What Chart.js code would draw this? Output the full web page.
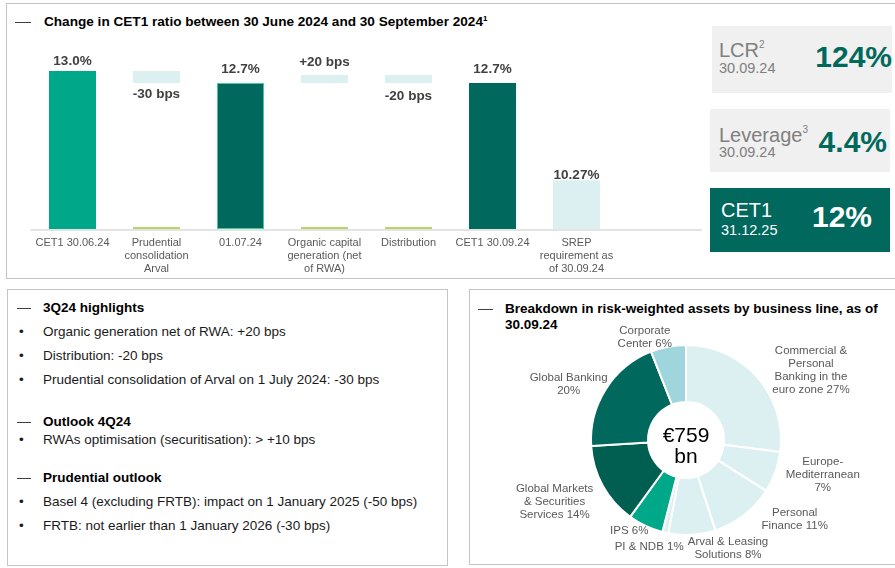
<!DOCTYPE html>
<html><head><meta charset="utf-8">
<script src="https://cdn.jsdelivr.net/npm/chart.js@4.4.1/dist/chart.umd.min.js"></script>
<style>
body{margin:0;background:#fff;}
#wrap{position:relative;width:895px;height:568px;overflow:hidden;font-family:"Liberation Sans",Arial,sans-serif;color:#1a1a1a;}
.panel{position:absolute;border:1px solid #c4c4c4;box-sizing:border-box;}
.t{position:absolute;white-space:nowrap;line-height:16px;font-size:13.5px;}
.b{font-weight:bold;color:#000;}
.dash{position:absolute;height:1px;background:#404040;}
.box{position:absolute;}
.kl{position:absolute;white-space:nowrap;color:#7f7f7f;}
.kv{position:absolute;white-space:nowrap;font-weight:bold;font-size:30px;line-height:34px;color:#00695c;}
canvas{position:absolute;}
</style></head><body>
<div id="wrap">
  <div class="panel" style="left:6px;top:3px;width:900px;height:276px"></div>
  <div class="panel" style="left:7px;top:289px;width:441px;height:277px"></div>
  <div class="panel" style="left:469px;top:289px;width:440px;height:276px"></div>

  <div class="dash" style="left:15px;top:22px;width:16px"></div>
  <div class="t b" style="left:44px;top:14px;font-size:13.6px">Change in CET1 ratio between 30 June 2024 and 30 September 2024¹</div>

  <div class="box" style="left:712px;top:26px;width:180px;height:67px;background:#f0f0f0"></div>
  <div class="kl" style="left:719px;top:33px;font-size:20px;line-height:24px">LCR<sup style="font-size:10px;vertical-align:9px">2</sup></div>
  <div class="kl" style="left:719px;top:60px;font-size:14.5px;line-height:16px">30.09.24</div>
  <div class="kv" style="right:3px;top:40px">124%</div>

  <div class="box" style="left:710px;top:109px;width:180px;height:63px;background:#f0f0f0"></div>
  <div class="kl" style="left:719px;top:118px;font-size:20px;line-height:24px">Leverage<sup style="font-size:10px;vertical-align:9px">3</sup></div>
  <div class="kl" style="left:719px;top:144px;font-size:14.5px;line-height:16px">30.09.24</div>
  <div class="kv" style="right:8px;top:125px">4.4%</div>

  <div class="box" style="left:710px;top:188px;width:180px;height:64px;background:#00685c"></div>
  <div class="kl" style="left:721px;top:198px;font-size:20px;line-height:24px;color:#fff">CET1</div>
  <div class="kl" style="left:721px;top:222px;font-size:14.5px;line-height:16px;color:#fff">31.12.25</div>
  <div class="kv" style="left:812px;top:200px;color:#fff">12%</div>

  <div class="dash" style="left:17px;top:308px;width:14px"></div>
  <div class="t b" style="left:43px;top:300px">3Q24 highlights</div>
  <div class="t" style="left:19px;top:324px">•</div><div class="t" style="left:43px;top:324px">Organic generation net of RWA: +20 bps</div>
  <div class="t" style="left:19px;top:348px">•</div><div class="t" style="left:43px;top:348px">Distribution: -20 bps</div>
  <div class="t" style="left:19px;top:372px">•</div><div class="t" style="left:43px;top:372px">Prudential consolidation of Arval on 1 July 2024: -30 bps</div>
  <div class="dash" style="left:17px;top:422px;width:14px"></div>
  <div class="t b" style="left:43px;top:414px">Outlook 4Q24</div>
  <div class="t" style="left:19px;top:432px">•</div><div class="t" style="left:43px;top:432px">RWAs optimisation (securitisation): &gt; +10 bps</div>
  <div class="dash" style="left:17px;top:478px;width:14px"></div>
  <div class="t b" style="left:43px;top:470px">Prudential outlook</div>
  <div class="t" style="left:19px;top:494px">•</div><div class="t" style="left:43px;top:494px">Basel 4 (excluding FRTB): impact on 1 January 2025 (-50 bps)</div>
  <div class="t" style="left:19px;top:518px">•</div><div class="t" style="left:43px;top:518px">FRTB: not earlier than 1 January 2026 (-30 bps)</div>

  <div class="dash" style="left:478px;top:309px;width:15px"></div>
  <div class="t b" style="left:505px;top:301px">Breakdown in risk-weighted assets by business line, as of</div>
  <div class="t b" style="left:505px;top:317px">30.09.24</div>

  <canvas id="bar" width="710" height="282" style="left:0;top:0"></canvas>
  <canvas id="pie" width="426" height="279" style="left:469px;top:289px"></canvas>
</div>
<script>
// ---------- Waterfall data ----------
const categories = [
  ['CET1 30.06.24'],
  ['Prudential', 'consolidation', 'Arval'],
  ['01.07.24'],
  ['Organic capital', 'generation (net', 'of RWA)'],
  ['Distribution'],
  ['CET1 30.09.24'],
  ['SREP', 'requirement as', 'of 30.09.24']
];
const totalValues = [13.0, null, 12.7, null, null, 12.7, 10.27];
const changeBps = [null, -30, null, 20, -20, null, null];
const valueLabels = ['13.0%', '-30 bps', '12.7%', '+20 bps', '-20 bps', '12.7%', '10.27%'];
const valueLabelNudge = [2, -1, -2, -1, 1, -2, 7];
const barColors = ['#00a88a', '#dcf0f2', '#00685c', '#dcf0f2', '#dcf0f2', '#00685c', '#dcf0f2'];
const axisMin = 9.05, axisMax = 13.525;

// ---------- RWA doughnut data ----------
const rwaLabelLines = [
  ['Commercial &', 'Personal', 'Banking in the', 'euro zone {v}'],
  ['Europe-', 'Mediterranean', '{v}'],
  ['Personal', 'Finance {v}'],
  ['Arval & Leasing', 'Solutions {v}'],
  ['PI & NDB {v}'],
  ['IPS {v}'],
  ['Global Markets', '& Securities', 'Services {v}'],
  ['Global Banking', '{v}'],
  ['Corporate', 'Center {v}']
];
const rwaShares = [27, 7, 11, 8, 1, 6, 14, 20, 6];
const rwaColors = ['#dcf0f2', '#dcf0f2', '#dcf0f2', '#dcf0f2', '#dcf0f2', '#00a88a', '#005f50', '#00685c', '#9fd5dc'];
const rwaTotal = '€759';
const rwaUnit = 'bn';
const labelNudge = [[6, 1], [-1, -1], [10, -5], [-5, 2], [21, 2], [8, -6], [1, 10], [12, 2], [6, 2]];

const SANS = '"Liberation Sans",Arial,sans-serif';

// build floating bars
let level = null;
const floatBars = [], markBars = [];
for (let i = 0; i < categories.length; i++) {
  if (totalValues[i] !== null) {
    floatBars.push([axisMin, totalValues[i]]);
    level = totalValues[i];
    markBars.push(null);
  } else {
    const end = +(level + changeBps[i] / 100).toFixed(4);
    floatBars.push([level, end]);
    level = end;
    markBars.push([axisMin, axisMin + 0.05]);
  }
}

const wfLabels = {
  id: 'wfLabels',
  beforeDatasetsDraw(chart) {
    const {ctx, chartArea} = chart;
    ctx.save();
    ctx.strokeStyle = '#e3e3e3';
    ctx.lineWidth = 2;
    ctx.beginPath();
    ctx.moveTo(chartArea.left, chartArea.bottom + 1);
    ctx.lineTo(702, chartArea.bottom + 1);
    ctx.stroke();
    ctx.restore();
  },
  afterDatasetsDraw(chart) {
    const {ctx} = chart;
    const meta = chart.getDatasetMeta(0);
    ctx.save();
    ctx.font = 'bold 13.5px ' + SANS;
    ctx.fillStyle = '#404040';
    ctx.textAlign = 'center';
    ctx.textBaseline = 'middle';
    meta.data.forEach((el, i) => {
      const top = Math.min(el.y, el.base), bot = Math.max(el.y, el.base);
      if (changeBps[i] !== null && changeBps[i] < 0) {
        ctx.fillText(valueLabels[i], el.x, bot + 12 + valueLabelNudge[i]);
      } else {
        ctx.fillText(valueLabels[i], el.x, top - 12 + valueLabelNudge[i]);
      }
    });
    ctx.restore();
  }
};

new Chart(document.getElementById('bar'), {
  type: 'bar',
  data: {
    labels: categories,
    datasets: [{
      data: floatBars,
      backgroundColor: barColors,
      borderColor: barColors.map((c, i) => i === 2 ? '#4cc7a6' : c),
      borderWidth: barColors.map((c, i) => i === 2 ? 1 : 0),
      borderSkipped: false,
      grouped: false,
      categoryPercentage: 1,
      barPercentage: 0.56
    }, {
      data: markBars,
      backgroundColor: '#b5d56a',
      grouped: false,
      categoryPercentage: 1,
      barPercentage: 0.56
    }]
  },
  options: {
    responsive: false,
    animation: false,
    layout: {padding: {left: 30.5, right: 91.5, top: 50, bottom: 0}},
    plugins: {legend: {display: false}, tooltip: {enabled: false}},
    scales: {
      x: {
        grid: {display: false, drawTicks: false},
        border: {display: false},
        afterFit(scale) { scale.height = 53; },
        ticks: {
          color: '#595959', autoSkip: false, maxRotation: 0, padding: 8,
          font: {family: SANS, size: 11, lineHeight: 1.15}
        }
      },
      y: {display: false, min: axisMin, max: axisMax}
    }
  },
  plugins: [wfLabels]
});

const pieLabels = {
  id: 'pieLabels',
  afterDraw(chart) {
    const {ctx} = chart;
    const meta = chart.getDatasetMeta(0);
    ctx.save();
    const arc0 = meta.data[0];
    ctx.fillStyle = '#000';
    ctx.textAlign = 'center';
    ctx.textBaseline = 'middle';
    ctx.font = '21px ' + SANS;
    ctx.fillText(rwaTotal, arc0.x, arc0.y - 4);
    ctx.fillText(rwaUnit, arc0.x, arc0.y + 17);

    ctx.font = '11.5px ' + SANS;
    ctx.fillStyle = '#595959';
    const lh = 13;
    meta.data.forEach((arc, i) => {
      const mid = (arc.startAngle + arc.endAngle) / 2;
      const r = arc.outerRadius + 12;
      const ax = arc.x + Math.cos(mid) * r + labelNudge[i][0];
      const ay = arc.y + Math.sin(mid) * r + labelNudge[i][1];
      const lines = rwaLabelLines[i].map(s => s.replace('{v}', rwaShares[i] + '%'));
      const w = Math.max(...lines.map(s => ctx.measureText(s).width));
      const left = Math.cos(mid) >= 0 ? ax : ax - w;
      const cx = left + w / 2;
      const y0 = ay - (lines.length - 1) * lh / 2;
      lines.forEach((s, k) => ctx.fillText(s, cx, y0 + k * lh));
    });
    ctx.restore();
  }
};

new Chart(document.getElementById('pie'), {
  type: 'doughnut',
  data: {
    labels: rwaLabelLines.map(l => l.join(' ')),
    datasets: [{
      data: rwaShares,
      backgroundColor: rwaColors,
      borderColor: '#ffffff',
      borderWidth: 2
    }]
  },
  options: {
    responsive: false,
    animation: false,
    cutout: '40%',
    layout: {padding: {left: 121, top: 55, right: 113, bottom: 32}},
    plugins: {legend: {display: false}, tooltip: {enabled: false}}
  },
  plugins: [pieLabels]
});
</script>
</body></html>
